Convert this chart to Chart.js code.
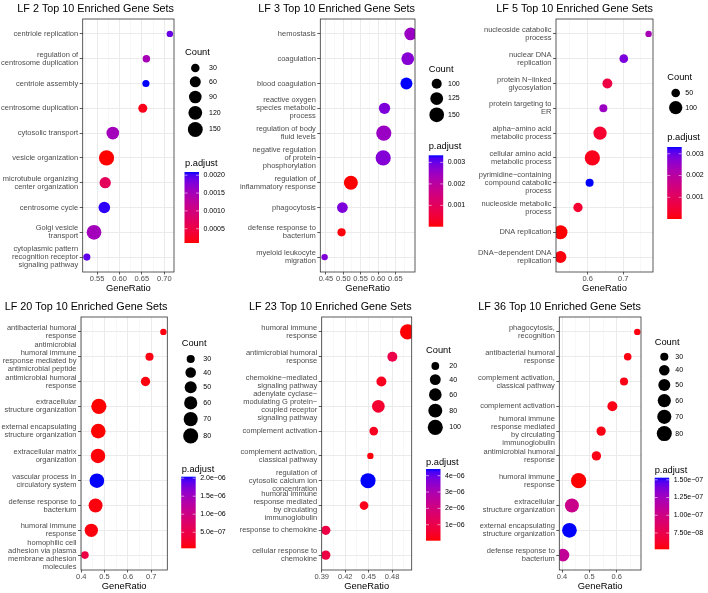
<!DOCTYPE html>
<html><head><meta charset="utf-8">
<script src="https://cdn.jsdelivr.net/npm/chart.js@4.4.0/dist/chart.umd.min.js"></script>
<style>
html,body{margin:0;padding:0;background:#fff;}
#wrap{position:relative;width:708px;height:593px;overflow:hidden;background:#fff;}
canvas{position:absolute;}
</style></head><body><div id="wrap"></div>
<script>
// ---------------- DATA ----------------
const M = "\u2212";
const lf2Terms = ["centriole replication", ["regulation of","centrosome duplication"], "centriole assembly", "centrosome duplication", "cytosolic transport", "vesicle organization", ["microtubule organizing","center organization"], "centrosome cycle", ["Golgi vesicle","transport"], ["cytoplasmic pattern","recognition receptor","signaling pathway"]];
const lf2Ratio = [0.7125, 0.660, 0.659, 0.652, 0.585, 0.571, 0.568, 0.566, 0.543, 0.527];
const lf2Count = [22, 24, 23, 34, 92, 160, 65, 70, 145, 23];
const lf2Padj = [0.00189, 0.00149, 0.00209, 0.0002, 0.00153, 0.0001, 0.0007, 0.00205, 0.00153, 0.00193];
const lf2XTicks = [0.55, 0.60, 0.65, 0.70];
const lf2XLabels = ["0.55", "0.60", "0.65", "0.70"];
const lf2CountBreaks = [30, 60, 90, 120, 150];
const lf2PadjBreaks = [0.0005, 0.0010, 0.0015, 0.0020];
const lf2PadjLabels = ["0.0005", "0.0010", "0.0015", "0.0020"];

const lf3Terms = ["hemostasis", "coagulation", "blood coagulation", ["reactive oxygen","species metabolic","process"], ["regulation of body","fluid levels"], ["negative regulation","of protein","phosphorylation"], ["regulation of","inflammatory response"], "phagocytosis", ["defense response to","bacterium"], ["myeloid leukocyte","migration"]];
const lf3Ratio = [0.694, 0.6855, 0.6817, 0.6186, 0.6166, 0.6148, 0.5218, 0.4974, 0.495, 0.4462];
const lf3Count = [124, 124, 116, 110, 158, 157, 140, 105, 91, 88];
const lf3Padj = [0.0025, 0.00273, 0.00333, 0.00283, 0.0025, 0.00277, 0.00001, 0.00283, 0.00007, 0.0028];
const lf3XTicks = [0.45, 0.50, 0.55, 0.60, 0.65];
const lf3XLabels = ["0.45", "0.50", "0.55", "0.60", "0.65"];
const lf3CountBreaks = [100, 125, 150];
const lf3PadjBreaks = [0.001, 0.002, 0.003];
const lf3PadjLabels = ["0.001", "0.002", "0.003"];

const lf5Terms = [["nucleoside catabolic","process"], ["nuclear DNA","replication"], ["protein N"+M+"linked","glycosylation"], ["protein targeting to","ER"], ["alpha"+M+"amino acid","metabolic process"], ["cellular amino acid","metabolic process"], ["pyrimidine"+M+"containing","compound catabolic","process"], ["nucleoside metabolic","process"], "DNA replication", ["DNA"+M+"dependent DNA","replication"]];
const lf5Ratio = [0.7715, 0.7017, 0.6556, 0.6443, 0.635, 0.6133, 0.6056, 0.5729, 0.5237, 0.5235];
const lf5Count = [44, 50, 59, 47, 100, 135, 47, 54, 112, 81];
const lf5Padj = [0.00232, 0.00282, 0.00067, 0.00248, 0.0004, 0.00017, 0.00331, 0.0004, 0.000005, 0.00007];
const lf5XTicks = [0.6, 0.7];
const lf5XLabels = ["0.6", "0.7"];
const lf5CountBreaks = [50, 100];
const lf5PadjBreaks = [0.001, 0.002, 0.003];
const lf5PadjLabels = ["0.001", "0.002", "0.003"];

const lf20Terms = [["antibacterial humoral","response"], ["antimicrobial","humoral immune","response mediated by","antimicrobial peptide"], ["antimicrobial humoral","response"], ["extracellular","structure organization"], ["external encapsulating","structure organization"], ["extracellular matrix","organization"], ["vascular process in","circulatory system"], ["defense response to","bacterium"], ["humoral immune","response"], ["homophilic cell","adhesion via plasma","membrane adhesion","molecules"]];
const lf20Ratio = [0.7523, 0.6928, 0.6757, 0.4757, 0.4732, 0.472, 0.4672, 0.4617, 0.4434, 0.416];
const lf20Count = [28, 30, 34, 82, 76, 74, 75, 68, 61, 29];
const lf20Padj = [9.6e-8, 1.2e-7, 9.6e-8, 5.6e-8, 5.6e-8, 7.6e-8, 2.04e-6, 9.6e-8, 9.6e-8, 4.5e-7];
const lf20XTicks = [0.4, 0.5, 0.6, 0.7];
const lf20XLabels = ["0.4", "0.5", "0.6", "0.7"];
const lf20CountBreaks = [30, 40, 50, 60, 70, 80];
const lf20PadjBreaks = [5e-7, 1e-6, 1.5e-6, 2e-6];
const lf20PadjLabels = ["5.0e"+M+"07", "1.0e"+M+"06", "1.5e"+M+"06", "2.0e"+M+"06"];

const lf23Terms = [["humoral immune","response"], ["antimicrobial humoral","response"], ["chemokine"+M+"mediated","signaling pathway"], ["adenylate cyclase"+M,"modulating G protein"+M,"coupled receptor","signaling pathway"], "complement activation", ["complement activation,","classical pathway"], ["regulation of","cytosolic calcium ion","concentration"], ["humoral immune","response mediated","by circulating","immunoglobulin"], "response to chemokine", ["cellular response to","chemokine"]];
const lf23Ratio = [0.4998, 0.4803, 0.4663, 0.4624, 0.4565, 0.4522, 0.4492, 0.4441, 0.3952, 0.3952];
const lf23Count = [102, 32, 32, 61, 24, 18, 100, 24, 27, 27];
const lf23Padj = [2e-8, 9.9e-7, 3.3e-7, 5.5e-7, 3.3e-7, 1.0e-7, 4.41e-6, 2.4e-7, 9e-7, 9e-7];
const lf23XTicks = [0.39, 0.42, 0.45, 0.48];
const lf23XLabels = ["0.39", "0.42", "0.45", "0.48"];
const lf23CountBreaks = [20, 40, 60, 80, 100];
const lf23PadjBreaks = [1e-6, 2e-6, 3e-6, 4e-6];
const lf23PadjLabels = ["1e"+M+"06", "2e"+M+"06", "3e"+M+"06", "4e"+M+"06"];

const lf36Terms = [["phagocytosis,","recognition"], ["antibacterial humoral","response"], ["complement activation,","classical pathway"], "complement activation", ["humoral immune","response mediated","by circulating","immunoglobulin"], ["antimicrobial humoral","response"], ["humoral immune","response"], ["extracellular","structure organization"], ["external encapsulating","structure organization"], ["defense response to","bacterium"]];
const lf36Ratio = [0.675, 0.64, 0.6265, 0.584, 0.543, 0.5257, 0.4608, 0.4362, 0.4272, 0.4037];
const lf36Count = [28, 29, 30, 37, 34, 34, 82, 68, 76, 55];
const lf36Padj = [5.5e-8, 5.5e-8, 5.6e-8, 5.6e-8, 5.6e-8, 5.6e-8, 5.2e-8, 1.03e-7, 1.53e-7, 1.08e-7];
const lf36XTicks = [0.4, 0.5, 0.6];
const lf36XLabels = ["0.4", "0.5", "0.6"];
const lf36CountBreaks = [30, 40, 50, 60, 70, 80];
const lf36PadjBreaks = [7.5e-8, 1e-7, 1.25e-7, 1.5e-7];
const lf36PadjLabels = ["7.50e"+M+"08", "1.00e"+M+"07", "1.25e"+M+"07", "1.50e"+M+"07"];

const panels = [
  {title:"LF 2 Top 10 Enriched Gene Sets", terms:lf2Terms, ratio:lf2Ratio, count:lf2Count, padj:lf2Padj, xTicks:lf2XTicks, xLabels:lf2XLabels, countBreaks:lf2CountBreaks, padjBreaks:lf2PadjBreaks, padjLabels:lf2PadjLabels},
  {title:"LF 3 Top 10 Enriched Gene Sets", terms:lf3Terms, ratio:lf3Ratio, count:lf3Count, padj:lf3Padj, xTicks:lf3XTicks, xLabels:lf3XLabels, countBreaks:lf3CountBreaks, padjBreaks:lf3PadjBreaks, padjLabels:lf3PadjLabels},
  {title:"LF 5 Top 10 Enriched Gene Sets", terms:lf5Terms, ratio:lf5Ratio, count:lf5Count, padj:lf5Padj, xTicks:lf5XTicks, xLabels:lf5XLabels, countBreaks:lf5CountBreaks, padjBreaks:lf5PadjBreaks, padjLabels:lf5PadjLabels},
  {title:"LF 20 Top 10 Enriched Gene Sets", terms:lf20Terms, ratio:lf20Ratio, count:lf20Count, padj:lf20Padj, xTicks:lf20XTicks, xLabels:lf20XLabels, countBreaks:lf20CountBreaks, padjBreaks:lf20PadjBreaks, padjLabels:lf20PadjLabels},
  {title:"LF 23 Top 10 Enriched Gene Sets", terms:lf23Terms, ratio:lf23Ratio, count:lf23Count, padj:lf23Padj, xTicks:lf23XTicks, xLabels:lf23XLabels, countBreaks:lf23CountBreaks, padjBreaks:lf23PadjBreaks, padjLabels:lf23PadjLabels},
  {title:"LF 36 Top 10 Enriched Gene Sets", terms:lf36Terms, ratio:lf36Ratio, count:lf36Count, padj:lf36Padj, xTicks:lf36XTicks, xLabels:lf36XLabels, countBreaks:lf36CountBreaks, padjBreaks:lf36PadjBreaks, padjLabels:lf36PadjLabels}
];

// ---------------- LAYOUT ----------------
const layouts = [
  {x:0,   y:0,   w:236, h:298, left:82.7, right:174,   top:19, bottom:272, lx:185,   countTitleY:52,   firstKeyY:68,   keyCx:195.3, keyLabelX:209,   padjTitleY:163.7, barX:184.5, barTop:172,   barBottom:243},
  {x:236, y:0,   w:236, h:298, left:84.3, right:179,   top:19, bottom:272, lx:192.7, countTitleY:69,   firstKeyY:83.7, keyCx:200.7, keyLabelX:212,   padjTitleY:146,   barX:192.7, barTop:155.3, barBottom:226.7},
  {x:472, y:0,   w:236, h:298, left:84,   right:181,   top:19, bottom:272, lx:195.3, countTitleY:77,   firstKeyY:93,   keyCx:203.7, keyLabelX:213.3, padjTitleY:137.3, barX:195.2, barTop:147,   barBottom:219},
  {x:0,   y:298, w:236, h:295, left:81,   right:167.3, top:19, bottom:272, lx:181.7, countTitleY:45.3, firstKeyY:61,   keyCx:190.7, keyLabelX:203.3, padjTitleY:171,   barX:181.2, barTop:178.7, barBottom:250.3},
  {x:236, y:298, w:236, h:295, left:85.7, right:175.7, top:19, bottom:272, lx:190,   countTitleY:52.7, firstKeyY:68,   keyCx:199.3, keyLabelX:213.3, padjTitleY:164,   barX:190,   barTop:171,   barBottom:242.7},
  {x:472, y:298, w:236, h:295, left:87.3, right:169,   top:19, bottom:272, lx:182.7, countTitleY:44,   firstKeyY:58.7, keyCx:192.3, keyLabelX:203.3, padjTitleY:172,   barX:182.7, barTop:179.7, barBottom:251.3}
];

const FAM = '"Liberation Sans", Arial, Helvetica, sans-serif';
const font = s => s + 'px ' + FAM;

// ---------- colour: Lab interpolation red -> blue (ggplot2 style) ----------
function toLin(c){c/=255;return c<=0.04045?c/12.92:Math.pow((c+0.055)/1.055,2.4);}
function toS(c){c=c<=0.0031308?12.92*c:1.055*Math.pow(Math.max(c,0),1/2.4)-0.055;return Math.round(Math.max(0,Math.min(1,c))*255);}
function rgb2lab(r,g,b){r=toLin(r);g=toLin(g);b=toLin(b);
  const X=(0.4124564*r+0.3575761*g+0.1804375*b)/0.95047,Y=0.2126729*r+0.7151522*g+0.0721750*b,Z=(0.0193339*r+0.1191920*g+0.9503041*b)/1.08883;
  const f=t=>t>0.008856?Math.cbrt(t):7.787*t+16/116;const fx=f(X),fy=f(Y),fz=f(Z);
  return [116*fy-16,500*(fx-fy),200*(fy-fz)];}
function lab2rgb(L,a,b){const fy=(L+16)/116,fx=fy+a/500,fz=fy-b/200;
  const fi=t=>{const t3=t*t*t;return t3>0.008856?t3:(t-16/116)/7.787;};
  const X=fi(fx)*0.95047,Y=fi(fy),Z=fi(fz)*1.08883;
  const r=3.2404542*X-1.5371385*Y-0.4985314*Z,g=-0.9692660*X+1.8760108*Y+0.0415560*Z,bb=0.0556434*X-0.2040259*Y+1.0572252*Z;
  return 'rgb('+toS(r)+','+toS(g)+','+toS(bb)+')';}
const LOW = rgb2lab(255,0,0), HIGH = rgb2lab(0,0,255);
function colorAt(t){t=Math.max(0,Math.min(1,t));return lab2rgb(LOW[0]+(HIGH[0]-LOW[0])*t,LOW[1]+(HIGH[1]-LOW[1])*t,LOW[2]+(HIGH[2]-LOW[2])*t);}

const R_MIN = 3.2, R_MAX = 7.6;

function buildPanel(P, L){
  const wrap = document.getElementById('wrap');
  const cv = document.createElement('canvas');
  cv.width = L.w; cv.height = L.h;
  cv.style.left = L.x+'px'; cv.style.top = L.y+'px';
  cv.style.width = L.w+'px'; cv.style.height = L.h+'px';
  wrap.appendChild(cv);

  const n = P.terms.length;
  const cmin = Math.min(...P.count), cmax = Math.max(...P.count);
  const pmin = Math.min(...P.padj), pmax = Math.max(...P.padj);
  const rad = c => R_MIN + (R_MAX-R_MIN)*Math.sqrt(Math.max(0,(c-cmin)/(cmax-cmin)));
  const col = p => colorAt((p-pmin)/(pmax-pmin));
  const dmin = Math.min(...P.ratio), dmax = Math.max(...P.ratio), span = dmax-dmin;
  const xmin = dmin-0.05*span, xmax = dmax+0.05*span;

  const step = P.xTicks[1]-P.xTicks[0];
  const ticks = P.xTicks.map((v,i)=>({value:v, lbl:P.xLabels[i], gmin:false}));
  for(let i=0;i<P.xTicks.length-1;i++) ticks.push({value:(P.xTicks[i]+P.xTicks[i+1])/2, lbl:'', gmin:true});
  const lo = P.xTicks[0]-step/2, hi = P.xTicks[P.xTicks.length-1]+step/2;
  if(lo>=xmin) ticks.push({value:lo,lbl:'',gmin:true});
  if(hi<=xmax) ticks.push({value:hi,lbl:'',gmin:true});
  ticks.sort((a,b)=>a.value-b.value);

  const decor = {
    id:'decor',
    afterDraw(chart){
      const ctx = chart.ctx, a = chart.chartArea;
      ctx.save();
      ctx.strokeStyle = '#333333'; ctx.lineWidth = 0.8;
      ctx.strokeRect(a.left, a.top, a.right-a.left, a.bottom-a.top);
      ctx.fillStyle = '#000';
      ctx.textBaseline = 'middle';
      ctx.font = font(10.8); ctx.textAlign = 'right';
      ctx.fillText(P.title, a.right, 9);
      ctx.font = font(9.4); ctx.textAlign = 'center';
      ctx.fillText('GeneRatio', (a.left+a.right)/2, 288);
      // size legend
      ctx.textAlign = 'left';
      ctx.font = font(9.3);
      ctx.fillText('Count', L.lx, L.countTitleY);
      let y = L.firstKeyY;
      ctx.font = font(7);
      P.countBreaks.forEach((c,i)=>{
        const r = rad(c);
        if(i>0){const rp = rad(P.countBreaks[i-1]); y += ((8+1.2*rp)+(8+1.2*r))/2;}
        ctx.fillStyle = '#000';
        ctx.beginPath(); ctx.arc(L.keyCx, y, r, 0, Math.PI*2); ctx.fill();
        ctx.fillText(String(c), L.keyLabelX, y);
      });
      // colour bar
      ctx.font = font(9.3);
      ctx.fillText('p.adjust', L.lx, L.padjTitleY);
      const bw = 14.5, bh = L.barBottom-L.barTop;
      const g = ctx.createLinearGradient(0, L.barBottom, 0, L.barTop);
      for(let k=0;k<=30;k++) g.addColorStop(k/30, colorAt(k/30));
      ctx.fillStyle = g;
      ctx.fillRect(L.barX, L.barTop, bw, bh);
      ctx.font = font(7);
      P.padjBreaks.forEach((v,i)=>{
        const yy = L.barBottom - (v-pmin)/(pmax-pmin)*bh;
        ctx.strokeStyle = 'rgba(255,255,255,0.9)'; ctx.lineWidth = 0.6;
        ctx.beginPath(); ctx.moveTo(L.barX, yy); ctx.lineTo(L.barX+3, yy);
        ctx.moveTo(L.barX+bw-3, yy); ctx.lineTo(L.barX+bw, yy); ctx.stroke();
        ctx.fillStyle = '#000';
        ctx.fillText(P.padjLabels[i], L.barX+bw+4.5, yy);
      });
      ctx.restore();
    }
  };

  new Chart(cv, {
    type:'bubble',
    data:{datasets:[{
      data: P.terms.map((t,i)=>({x:P.ratio[i], y:n-i, r:rad(P.count[i])})),
      backgroundColor: P.padj.map(col),
      borderWidth:0, hoverBorderWidth:0, hoverRadius:0, clip:0
    }]},
    options:{
      responsive:false, animation:false, events:[], devicePixelRatio:1,
      layout:{padding:{left:0, top:L.top, right:L.w-L.right, bottom:0}},
      plugins:{legend:{display:false}, tooltip:{enabled:false}, title:{display:false}},
      scales:{
        x:{type:'linear', position:'bottom', min:xmin, max:xmax,
          afterBuildTicks: s=>{ s.ticks = ticks.map(t=>Object.assign({},t)); },
          afterFit: s=>{ s.height = L.h - L.bottom; },
          border:{display:false},
          grid:{
            color: c=> (c.tick && c.tick.gmin) ? '#F4F4F4' : '#EBEBEB',
            lineWidth: c=> (c.tick && c.tick.gmin) ? 0.6 : 1,
            tickColor: c=> (c.tick && c.tick.gmin) ? 'rgba(0,0,0,0)' : '#333333',
            tickLength:2.5, tickWidth:0.8
          },
          ticks:{autoSkip:false, maxRotation:0, minRotation:0, padding:0, color:'#4D4D4D',
            font:{family:FAM, size:7.5}, callback:(v,i,ts)=> ts[i] ? ts[i].lbl : ''}
        },
        y:{type:'linear', position:'left', min:0.4, max:n+0.6,
          afterBuildTicks: s=>{ s.ticks = P.terms.map((t,i)=>({value:n-i, lbl:t})); },
          afterFit: s=>{ s.width = L.left; },
          border:{display:false},
          grid:{color:'#EBEBEB', lineWidth:1, tickColor:'#333333', tickLength:3, tickWidth:0.8},
          ticks:{autoSkip:false, padding:1.5, color:'#4D4D4D',
            font:{family:FAM, size:7.5, lineHeight:1.07}, callback:(v,i,ts)=> ts[i] ? ts[i].lbl : ''}
        }
      }
    },
    plugins:[decor]
  });
}

panels.forEach((P,i)=>buildPanel(P, layouts[i]));
</script></body></html>
